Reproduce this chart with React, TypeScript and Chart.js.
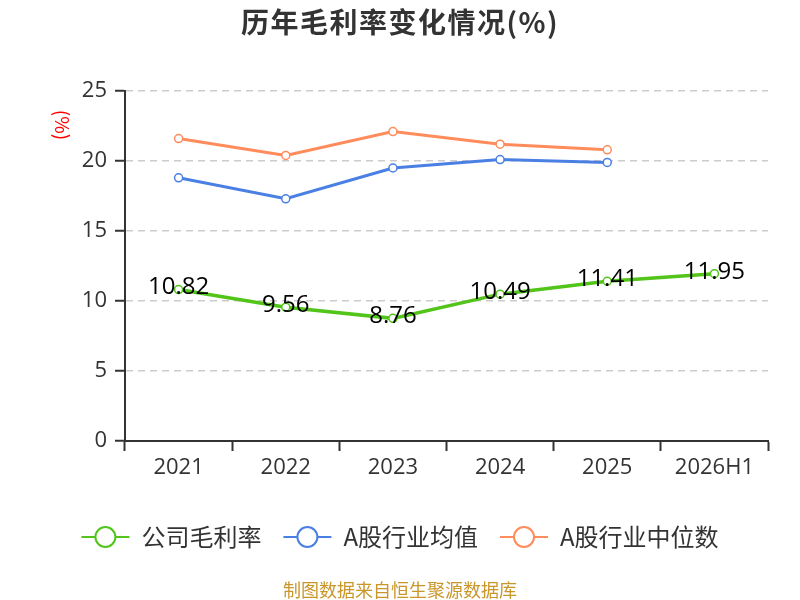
import React, { useEffect, useRef } from "react";
import { Chart, registerables } from "chart.js";

Chart.register(...registerables);

const categories = ["2021", "2022", "2023", "2024", "2025", "2026H1"];
const companyMargin = [10.82, 9.56, 8.76, 10.49, 11.41, 11.95];
const industryAvg = [18.8, 17.3, 19.5, 20.1, 19.9, null];
const industryMedian = [21.6, 20.4, 22.1, 21.2, 20.8, null];
const seriesNames = ["公司毛利率", "A股行业均值", "A股行业中位数"];
const seriesColors = ["#52c41a", "#4a7fe3", "#ff8c5a"];
const titleText = "历年毛利率变化情况(%)";
const unitText = "(%)";
const sourceText = "制图数据来自恒生聚源数据库";

const CJK = '"Noto Sans CJK SC", "Open Sans", sans-serif';
const NUM = '"Open Sans", "Noto Sans CJK SC", sans-serif';

const decorPlugin = {
  id: "decor",
  afterDatasetsDraw(chart: any) {
    const ctx = chart.ctx;
    const meta = chart.getDatasetMeta(0);
    ctx.save();
    ctx.font = `24px ${NUM}`;
    ctx.fillStyle = "#000";
    ctx.textAlign = "center";
    ctx.textBaseline = "middle";
    meta.data.forEach((pt: any, i: number) => {
      const v = companyMargin[i];
      ctx.fillText(v.toFixed(2), pt.x, pt.y - 2);
    });
    ctx.restore();
  },
  afterDraw(chart: any) {
    const ctx = chart.ctx;
    const W = chart.width;
    ctx.save();
    // title
    ctx.font = `bold 28px ${CJK}`;
    (ctx as any).letterSpacing = "1.5px";
    ctx.fillStyle = "#333";
    ctx.textAlign = "center";
    ctx.textBaseline = "middle";
    ctx.fillText(titleText, W / 2, 22);
    (ctx as any).letterSpacing = "0px";
    // unit label
    ctx.save();
    ctx.translate(62, 125);
    ctx.rotate(Math.PI / 2);
    ctx.font = `19px ${CJK}`;
    ctx.fillStyle = "#ff0000";
    ctx.textAlign = "center";
    ctx.textBaseline = "middle";
    ctx.fillText(unitText, 0, 0);
    ctx.restore();
    // legend
    ctx.font = `24px ${CJK}`;
    ctx.textBaseline = "middle";
    ctx.textAlign = "left";
    const lineW = 48;
    const gap = 12;
    const itemGap = 22;
    const widths = seriesNames.map((n) => ctx.measureText(n).width);
    const total = widths.reduce((a, w) => a + lineW + gap + w, 0) + itemGap * (seriesNames.length - 1);
    let x = W / 2 - total / 2;
    const ly = 537;
    seriesNames.forEach((n, i) => {
      ctx.strokeStyle = seriesColors[i];
      ctx.lineWidth = 2;
      ctx.beginPath();
      ctx.moveTo(x, ly);
      ctx.lineTo(x + lineW, ly);
      ctx.stroke();
      ctx.beginPath();
      ctx.arc(x + lineW / 2, ly, 10, 0, Math.PI * 2);
      ctx.fillStyle = "#fff";
      ctx.fill();
      ctx.stroke();
      ctx.fillStyle = "#333";
      ctx.fillText(n, x + lineW + gap, ly);
      x += lineW + gap + widths[i] + itemGap;
    });
    // source
    ctx.font = `18px ${CJK}`;
    ctx.fillStyle = "#c9962a";
    ctx.textAlign = "center";
    ctx.fillText(sourceText, W / 2, 590);
    ctx.restore();
  },
};

export default function App() {
  const ref = useRef<HTMLCanvasElement>(null);
  useEffect(() => {
    document.body.style.margin = "0";
    const mk = (i: number, data: any[], width: number) => ({
      label: seriesNames[i],
      data,
      borderColor: seriesColors[i],
      backgroundColor: "#fff",
      borderWidth: width,
      pointRadius: 4,
      pointBorderWidth: 1.5,
      pointBackgroundColor: "#fff",
      pointBorderColor: seriesColors[i],
      tension: 0,
      spanGaps: false,
    });
    const chart = new Chart(ref.current!, {
      type: "line",
      data: {
        labels: categories,
        datasets: [mk(0, companyMargin, 3.5), mk(1, industryAvg, 3), mk(2, industryMedian, 3)],
      },
      plugins: [decorPlugin],
      options: {
        animation: false,
        responsive: false,
        devicePixelRatio: 1,
        layout: { padding: { top: 91, right: 32, bottom: 109, left: 0 } },
        plugins: { legend: { display: false }, title: { display: false }, tooltip: { enabled: false } },
        scales: {
          x: {
            offset: true,
            grid: { offset: true, drawOnChartArea: false, tickColor: "#333", tickLength: 10, tickWidth: 2 },
            border: { color: "#333", width: 2 },
            ticks: { font: { size: 22, family: NUM }, color: "#333", padding: 4, maxRotation: 0 },
            afterFit(scale: any) {
              scale.height = 50;
            },
          },
          y: {
            min: 0,
            max: 25,
            ticks: { stepSize: 5, font: { size: 22, family: NUM }, color: "#333", padding: 8 },
            grid: {
              color: (c: any) => (c.tick && c.tick.value === 0 ? "rgba(0,0,0,0)" : "#cccccc"),
              lineWidth: 1.5,
              tickColor: "#333",
              tickLength: 10,
              tickWidth: 2,
            },
            border: { color: "#333", width: 2, dash: [7, 5] },
            afterFit(scale: any) {
              scale.width = 125;
            },
          },
        },
      },
    });
    return () => chart.destroy();
  }, []);
  return (
    <div style={{ position: "fixed", left: 0, top: 0, width: 800, height: 600 }}>
      <canvas ref={ref} width={800} height={600} />
    </div>
  );
}
